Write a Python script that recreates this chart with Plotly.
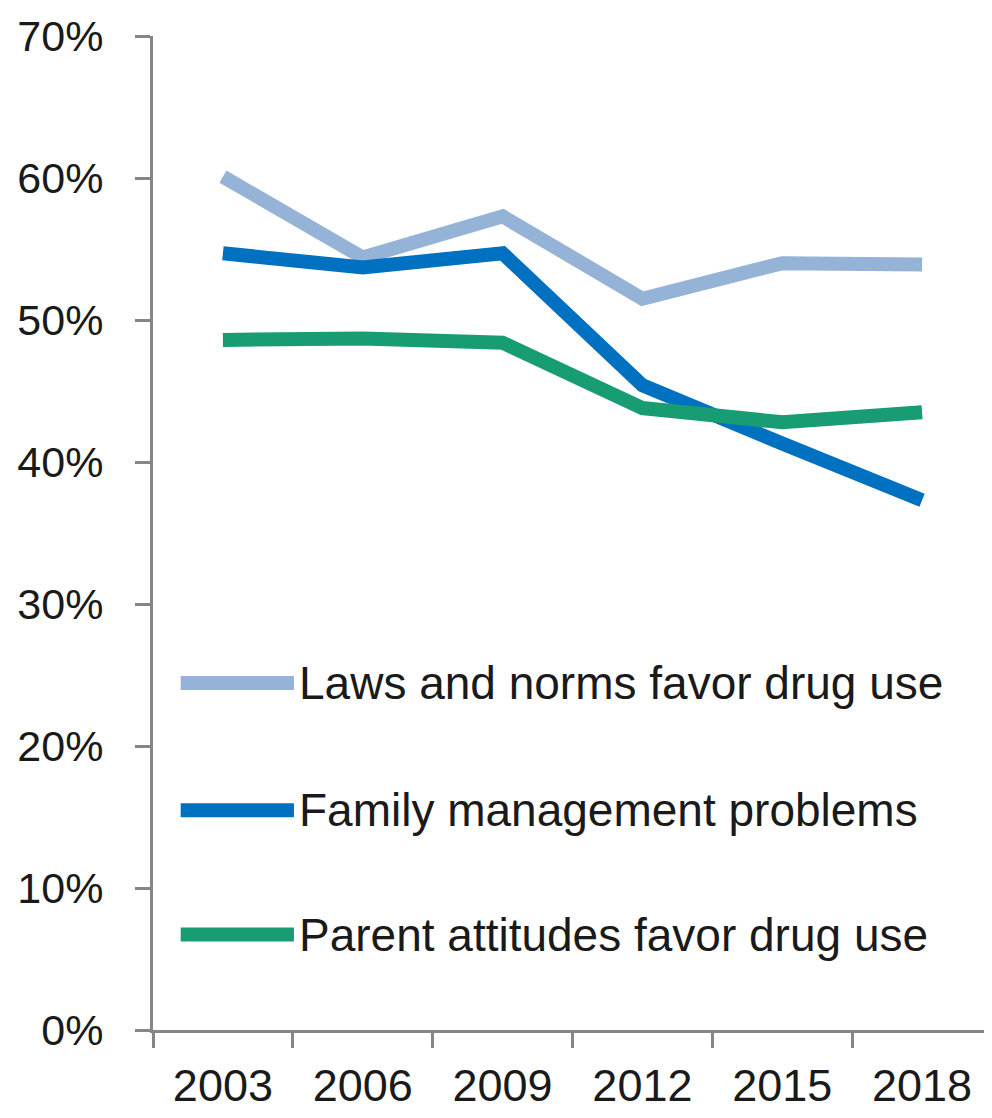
import plotly.graph_objects as go

# survey years
years = ["2003", "2006", "2009", "2012", "2015", "2018"]

# risk factor prevalence (%)
laws_norms = [60.1, 54.4, 57.3, 51.5, 54.0, 53.9]
family_mgmt = [54.7, 53.7, 54.7, 45.4, 41.3, 37.3]
parent_attitudes = [48.6, 48.7, 48.4, 43.8, 42.8, 43.5]

series_names = ["Laws and norms favor drug use",
                "Family management problems",
                "Parent attitudes favor drug use"]
colors = ["#95B3D7", "#0070C0", "#179C74"]

FONT = "Liberation Sans, Arial, sans-serif"
AXIS_GRAY = "#868686"

fig = go.Figure()
for name, vals, col in zip(series_names, [laws_norms, family_mgmt, parent_attitudes], colors):
    fig.add_trace(go.Scatter(x=years, y=vals, name=name, mode="lines",
                             line=dict(color=col, width=14), showlegend=False))

# legend drawn by hand so the swatches can be long, like the original
legend_y = [0.349, 0.221, 0.096]
for name, col, ly in zip(series_names, colors, legend_y):
    fig.add_shape(type="line", xref="paper", yref="paper",
                  x0=0.033, x1=0.168, y0=ly, y1=ly,
                  line=dict(color=col, width=14))
    fig.add_annotation(xref="paper", yref="paper", x=0.172, y=ly,
                       xanchor="left", yanchor="middle", showarrow=False,
                       text=name, font=dict(family=FONT, size=46, color="#1a1a1a"))

fig.update_xaxes(type="category", tickson="boundaries", range=[-0.5, 5.5],
                 showline=True, linecolor=AXIS_GRAY, linewidth=3,
                 ticks="outside", ticklen=15, tickwidth=3, tickcolor=AXIS_GRAY,
                 ticklabelstandoff=14, showgrid=False, automargin=False,
                 tickfont=dict(family=FONT, size=45, color="#1a1a1a"))
fig.update_yaxes(range=[0, 70], dtick=10, ticksuffix="%",
                 showline=True, linecolor=AXIS_GRAY, linewidth=3,
                 ticks="outside", ticklen=15, tickwidth=3, tickcolor=AXIS_GRAY,
                 ticklabelstandoff=23, showgrid=False, zeroline=False, automargin=False,
                 tickfont=dict(family=FONT, size=43, color="#1a1a1a"))

# page body adds an 8px offset, so the figure is sized to fit the window
fig.update_layout(width=984, height=1110,
                  margin=dict(l=145, r=0, t=28, b=88),
                  plot_bgcolor="white", paper_bgcolor="white")

fig.write_html("out.html")
